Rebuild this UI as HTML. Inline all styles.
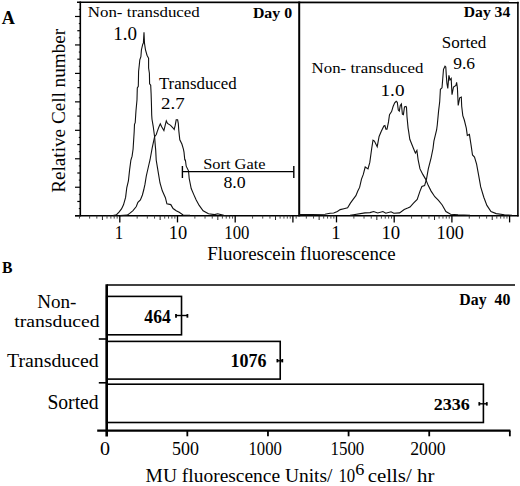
<!DOCTYPE html>
<html><head><meta charset="utf-8"><style>
html,body{margin:0;padding:0;background:#fff;}
svg{display:block;}
text{font-family:"Liberation Serif",serif;}
</style></head><body>
<svg width="520" height="486" viewBox="0 0 520 486">
<rect width="520" height="486" fill="#fff"/>
<line x1="77.00" y1="2.30" x2="518.60" y2="2.60" stroke="#000" stroke-width="1.6"/>
<line x1="80.30" y1="1.50" x2="80.30" y2="216.40" stroke="#000" stroke-width="1.6"/>
<line x1="299.20" y1="1.50" x2="299.20" y2="216.40" stroke="#000" stroke-width="2.0"/>
<line x1="517.90" y1="1.80" x2="517.90" y2="216.40" stroke="#000" stroke-width="1.6"/>
<line x1="75.00" y1="215.70" x2="518.60" y2="215.70" stroke="#000" stroke-width="1.6"/>
<line x1="75.00" y1="215.70" x2="80.30" y2="215.70" stroke="#000" stroke-width="1.2"/>
<line x1="77.30" y1="201.47" x2="80.30" y2="201.47" stroke="#000" stroke-width="1.2"/>
<line x1="78.80" y1="208.58" x2="80.30" y2="208.58" stroke="#000" stroke-width="1.0"/>
<line x1="78.80" y1="194.35" x2="80.30" y2="194.35" stroke="#000" stroke-width="1.0"/>
<line x1="75.00" y1="187.24" x2="80.30" y2="187.24" stroke="#000" stroke-width="1.2"/>
<line x1="77.30" y1="173.01" x2="80.30" y2="173.01" stroke="#000" stroke-width="1.2"/>
<line x1="78.80" y1="180.12" x2="80.30" y2="180.12" stroke="#000" stroke-width="1.0"/>
<line x1="78.80" y1="165.89" x2="80.30" y2="165.89" stroke="#000" stroke-width="1.0"/>
<line x1="75.00" y1="158.78" x2="80.30" y2="158.78" stroke="#000" stroke-width="1.2"/>
<line x1="77.30" y1="144.55" x2="80.30" y2="144.55" stroke="#000" stroke-width="1.2"/>
<line x1="78.80" y1="151.66" x2="80.30" y2="151.66" stroke="#000" stroke-width="1.0"/>
<line x1="78.80" y1="137.43" x2="80.30" y2="137.43" stroke="#000" stroke-width="1.0"/>
<line x1="75.00" y1="130.32" x2="80.30" y2="130.32" stroke="#000" stroke-width="1.2"/>
<line x1="77.30" y1="116.09" x2="80.30" y2="116.09" stroke="#000" stroke-width="1.2"/>
<line x1="78.80" y1="123.20" x2="80.30" y2="123.20" stroke="#000" stroke-width="1.0"/>
<line x1="78.80" y1="108.97" x2="80.30" y2="108.97" stroke="#000" stroke-width="1.0"/>
<line x1="75.00" y1="101.86" x2="80.30" y2="101.86" stroke="#000" stroke-width="1.2"/>
<line x1="77.30" y1="87.63" x2="80.30" y2="87.63" stroke="#000" stroke-width="1.2"/>
<line x1="78.80" y1="94.74" x2="80.30" y2="94.74" stroke="#000" stroke-width="1.0"/>
<line x1="78.80" y1="80.51" x2="80.30" y2="80.51" stroke="#000" stroke-width="1.0"/>
<line x1="75.00" y1="73.40" x2="80.30" y2="73.40" stroke="#000" stroke-width="1.2"/>
<line x1="77.30" y1="59.17" x2="80.30" y2="59.17" stroke="#000" stroke-width="1.2"/>
<line x1="78.80" y1="66.28" x2="80.30" y2="66.28" stroke="#000" stroke-width="1.0"/>
<line x1="78.80" y1="52.05" x2="80.30" y2="52.05" stroke="#000" stroke-width="1.0"/>
<line x1="75.00" y1="44.94" x2="80.30" y2="44.94" stroke="#000" stroke-width="1.2"/>
<line x1="77.30" y1="30.71" x2="80.30" y2="30.71" stroke="#000" stroke-width="1.2"/>
<line x1="78.80" y1="37.82" x2="80.30" y2="37.82" stroke="#000" stroke-width="1.0"/>
<line x1="78.80" y1="23.59" x2="80.30" y2="23.59" stroke="#000" stroke-width="1.0"/>
<line x1="75.00" y1="16.48" x2="80.30" y2="16.48" stroke="#000" stroke-width="1.2"/>
<line x1="78.80" y1="9.36" x2="80.30" y2="9.36" stroke="#000" stroke-width="1.0"/>
<line x1="79.47" y1="215.70" x2="79.47" y2="218.60" stroke="#333" stroke-width="0.9"/>
<line x1="89.63" y1="215.70" x2="89.63" y2="218.60" stroke="#333" stroke-width="0.9"/>
<line x1="96.84" y1="215.70" x2="96.84" y2="218.60" stroke="#333" stroke-width="0.9"/>
<line x1="102.43" y1="215.70" x2="102.43" y2="220.00" stroke="#222" stroke-width="1.0"/>
<line x1="107.00" y1="215.70" x2="107.00" y2="218.60" stroke="#333" stroke-width="0.9"/>
<line x1="110.86" y1="215.70" x2="110.86" y2="218.60" stroke="#333" stroke-width="0.9"/>
<line x1="114.21" y1="215.70" x2="114.21" y2="218.60" stroke="#333" stroke-width="0.9"/>
<line x1="117.16" y1="215.70" x2="117.16" y2="218.60" stroke="#333" stroke-width="0.9"/>
<line x1="119.80" y1="215.70" x2="119.80" y2="222.40" stroke="#000" stroke-width="1.3"/>
<line x1="137.17" y1="215.70" x2="137.17" y2="218.60" stroke="#333" stroke-width="0.9"/>
<line x1="147.33" y1="215.70" x2="147.33" y2="218.60" stroke="#333" stroke-width="0.9"/>
<line x1="154.54" y1="215.70" x2="154.54" y2="218.60" stroke="#333" stroke-width="0.9"/>
<line x1="160.13" y1="215.70" x2="160.13" y2="220.00" stroke="#222" stroke-width="1.0"/>
<line x1="164.70" y1="215.70" x2="164.70" y2="218.60" stroke="#333" stroke-width="0.9"/>
<line x1="168.56" y1="215.70" x2="168.56" y2="218.60" stroke="#333" stroke-width="0.9"/>
<line x1="171.91" y1="215.70" x2="171.91" y2="218.60" stroke="#333" stroke-width="0.9"/>
<line x1="174.86" y1="215.70" x2="174.86" y2="218.60" stroke="#333" stroke-width="0.9"/>
<line x1="177.50" y1="215.70" x2="177.50" y2="222.40" stroke="#000" stroke-width="1.3"/>
<line x1="194.87" y1="215.70" x2="194.87" y2="218.60" stroke="#333" stroke-width="0.9"/>
<line x1="205.03" y1="215.70" x2="205.03" y2="218.60" stroke="#333" stroke-width="0.9"/>
<line x1="212.24" y1="215.70" x2="212.24" y2="218.60" stroke="#333" stroke-width="0.9"/>
<line x1="217.83" y1="215.70" x2="217.83" y2="220.00" stroke="#222" stroke-width="1.0"/>
<line x1="222.40" y1="215.70" x2="222.40" y2="218.60" stroke="#333" stroke-width="0.9"/>
<line x1="226.26" y1="215.70" x2="226.26" y2="218.60" stroke="#333" stroke-width="0.9"/>
<line x1="229.61" y1="215.70" x2="229.61" y2="218.60" stroke="#333" stroke-width="0.9"/>
<line x1="232.56" y1="215.70" x2="232.56" y2="218.60" stroke="#333" stroke-width="0.9"/>
<line x1="235.20" y1="215.70" x2="235.20" y2="222.40" stroke="#000" stroke-width="1.3"/>
<line x1="252.57" y1="215.70" x2="252.57" y2="218.60" stroke="#333" stroke-width="0.9"/>
<line x1="262.73" y1="215.70" x2="262.73" y2="218.60" stroke="#333" stroke-width="0.9"/>
<line x1="269.94" y1="215.70" x2="269.94" y2="218.60" stroke="#333" stroke-width="0.9"/>
<line x1="275.53" y1="215.70" x2="275.53" y2="220.00" stroke="#222" stroke-width="1.0"/>
<line x1="280.10" y1="215.70" x2="280.10" y2="218.60" stroke="#333" stroke-width="0.9"/>
<line x1="283.96" y1="215.70" x2="283.96" y2="218.60" stroke="#333" stroke-width="0.9"/>
<line x1="287.31" y1="215.70" x2="287.31" y2="218.60" stroke="#333" stroke-width="0.9"/>
<line x1="290.26" y1="215.70" x2="290.26" y2="218.60" stroke="#333" stroke-width="0.9"/>
<line x1="292.90" y1="215.70" x2="292.90" y2="222.40" stroke="#000" stroke-width="1.3"/>
<line x1="296.17" y1="215.70" x2="296.17" y2="218.60" stroke="#333" stroke-width="0.9"/>
<line x1="306.33" y1="215.70" x2="306.33" y2="218.60" stroke="#333" stroke-width="0.9"/>
<line x1="313.54" y1="215.70" x2="313.54" y2="218.60" stroke="#333" stroke-width="0.9"/>
<line x1="319.13" y1="215.70" x2="319.13" y2="220.00" stroke="#222" stroke-width="1.0"/>
<line x1="323.70" y1="215.70" x2="323.70" y2="218.60" stroke="#333" stroke-width="0.9"/>
<line x1="327.56" y1="215.70" x2="327.56" y2="218.60" stroke="#333" stroke-width="0.9"/>
<line x1="330.91" y1="215.70" x2="330.91" y2="218.60" stroke="#333" stroke-width="0.9"/>
<line x1="333.86" y1="215.70" x2="333.86" y2="218.60" stroke="#333" stroke-width="0.9"/>
<line x1="336.50" y1="215.70" x2="336.50" y2="222.40" stroke="#000" stroke-width="1.3"/>
<line x1="353.87" y1="215.70" x2="353.87" y2="218.60" stroke="#333" stroke-width="0.9"/>
<line x1="364.03" y1="215.70" x2="364.03" y2="218.60" stroke="#333" stroke-width="0.9"/>
<line x1="371.24" y1="215.70" x2="371.24" y2="218.60" stroke="#333" stroke-width="0.9"/>
<line x1="376.83" y1="215.70" x2="376.83" y2="220.00" stroke="#222" stroke-width="1.0"/>
<line x1="381.40" y1="215.70" x2="381.40" y2="218.60" stroke="#333" stroke-width="0.9"/>
<line x1="385.26" y1="215.70" x2="385.26" y2="218.60" stroke="#333" stroke-width="0.9"/>
<line x1="388.61" y1="215.70" x2="388.61" y2="218.60" stroke="#333" stroke-width="0.9"/>
<line x1="391.56" y1="215.70" x2="391.56" y2="218.60" stroke="#333" stroke-width="0.9"/>
<line x1="394.20" y1="215.70" x2="394.20" y2="222.40" stroke="#000" stroke-width="1.3"/>
<line x1="411.57" y1="215.70" x2="411.57" y2="218.60" stroke="#333" stroke-width="0.9"/>
<line x1="421.73" y1="215.70" x2="421.73" y2="218.60" stroke="#333" stroke-width="0.9"/>
<line x1="428.94" y1="215.70" x2="428.94" y2="218.60" stroke="#333" stroke-width="0.9"/>
<line x1="434.53" y1="215.70" x2="434.53" y2="220.00" stroke="#222" stroke-width="1.0"/>
<line x1="439.10" y1="215.70" x2="439.10" y2="218.60" stroke="#333" stroke-width="0.9"/>
<line x1="442.96" y1="215.70" x2="442.96" y2="218.60" stroke="#333" stroke-width="0.9"/>
<line x1="446.31" y1="215.70" x2="446.31" y2="218.60" stroke="#333" stroke-width="0.9"/>
<line x1="449.26" y1="215.70" x2="449.26" y2="218.60" stroke="#333" stroke-width="0.9"/>
<line x1="451.90" y1="215.70" x2="451.90" y2="222.40" stroke="#000" stroke-width="1.3"/>
<line x1="469.27" y1="215.70" x2="469.27" y2="218.60" stroke="#333" stroke-width="0.9"/>
<line x1="479.43" y1="215.70" x2="479.43" y2="218.60" stroke="#333" stroke-width="0.9"/>
<line x1="486.64" y1="215.70" x2="486.64" y2="218.60" stroke="#333" stroke-width="0.9"/>
<line x1="492.23" y1="215.70" x2="492.23" y2="220.00" stroke="#222" stroke-width="1.0"/>
<line x1="496.80" y1="215.70" x2="496.80" y2="218.60" stroke="#333" stroke-width="0.9"/>
<line x1="500.66" y1="215.70" x2="500.66" y2="218.60" stroke="#333" stroke-width="0.9"/>
<line x1="504.01" y1="215.70" x2="504.01" y2="218.60" stroke="#333" stroke-width="0.9"/>
<line x1="506.96" y1="215.70" x2="506.96" y2="218.60" stroke="#333" stroke-width="0.9"/>
<line x1="509.60" y1="215.70" x2="509.60" y2="222.40" stroke="#000" stroke-width="1.3"/>
<polyline points="113.0,215.6 116.5,214.7 119.0,212.2 121.5,208.9 123.5,204.8 125.6,197.4 126.8,187.5 128.4,181.0 129.6,169.9 130.9,160.0 132.1,156.2 133.1,149.0 134.2,131.5 134.5,124.3 135.2,122.7 135.7,115.0 136.0,110.5 137.0,99.7 137.3,87.9 138.3,86.3 138.6,71.2 139.3,65.0 139.8,59.8 140.9,56.7 141.4,50.0 142.7,44.4 143.4,42.9 144.0,32.3 144.5,43.4 145.5,50.0 147.0,55.2 148.6,58.3 148.6,68.0 149.4,73.2 149.6,83.7 150.7,85.3 151.1,93.5 151.4,102.8 151.7,115.0 152.0,119.3 153.2,126.3 154.6,136.7 155.3,145.9 155.7,150.1 156.2,160.0 157.7,169.2 160.0,183.0 162.3,190.8 165.4,197.7 166.9,203.8 170.8,204.6 173.1,208.5 176.2,210.8 179.2,212.3 183.1,215.0 190.0,215.4" fill="none" stroke="#111" stroke-width="1.1" stroke-linejoin="miter"/>
<polyline points="120.0,215.6 127.2,215.1 129.7,213.4 133.0,210.6 136.3,206.5 137.9,202.3 140.4,199.9 142.4,195.0 143.7,190.0 145.0,184.2 146.3,176.0 148.8,165.0 150.0,160.0 152.2,147.9 154.6,136.7 156.3,134.5 157.2,131.6 158.7,127.5 160.3,123.9 161.8,127.0 163.9,130.6 165.4,124.4 166.3,120.8 167.5,123.4 170.6,125.4 173.1,128.0 174.2,129.5 175.2,125.4 176.2,119.8 177.6,119.8 178.3,123.4 178.8,130.6 179.8,139.8 181.9,144.0 183.4,149.1 184.0,152.2 184.8,160.0 185.4,160.0 186.2,166.2 188.5,170.8 189.2,178.5 191.2,188.5 193.8,194.6 196.2,200.0 199.2,205.4 203.1,210.8 208.5,213.8 214.6,214.6 217.7,213.8 223.8,215.4 230.0,215.6" fill="none" stroke="#111" stroke-width="1.1" stroke-linejoin="miter"/>
<polyline points="299.0,214.6 325.0,214.3 330.0,213.3 333.7,213.0 337.4,211.5 340.2,209.6 343.9,208.7 347.6,207.8 350.4,203.1 353.1,199.4 355.9,195.7 357.8,191.1 359.6,187.4 361.5,179.1 363.3,174.4 365.2,167.0 368.0,168.9 369.8,162.4 371.7,148.5 373.0,140.2 374.4,141.1 377.2,146.7 379.1,136.5 381.3,131.2 383.9,126.0 384.9,125.5 385.9,129.1 387.0,129.1 388.5,121.9 389.5,114.7 391.6,111.6 393.1,106.5 394.7,102.9 396.2,101.3 397.3,102.3 398.3,110.1 399.3,111.1 400.3,105.4 401.4,103.9 402.4,114.2 403.4,114.7 404.5,107.0 406.0,106.5 406.5,107.5 407.0,116.7 408.1,128.1 408.6,131.2 409.8,139.3 413.5,148.5 415.4,153.1 416.9,150.4 418.1,159.6 420.0,168.9 422.8,174.4 425.6,179.1 428.3,185.6 431.1,191.1 434.8,196.7 438.5,200.4 442.2,205.0 445.9,211.5 450.6,214.3 458.0,214.8 470.0,215.3" fill="none" stroke="#111" stroke-width="1.1" stroke-linejoin="miter"/>
<polyline points="350.0,215.4 353.5,214.8 365.0,212.9 370.0,212.6 373.6,211.5 377.7,213.0 382.9,211.5 385.8,213.2 391.0,211.8 393.8,213.2 399.6,212.9 404.2,209.5 407.7,208.1 410.0,207.0 413.5,203.1 417.2,199.4 420.0,191.1 421.9,186.5 424.6,185.6 426.5,179.1 428.3,168.9 431.1,157.8 433.0,148.5 433.9,141.1 435.7,133.7 436.6,130.0 437.3,124.8 438.6,110.9 439.7,101.7 440.4,89.3 442.0,87.8 442.7,79.3 443.5,69.3 445.0,66.2 445.8,67.0 446.3,75.4 446.9,83.1 447.8,88.5 448.9,75.4 450.0,80.0 451.2,78.5 452.0,94.7 453.5,87.0 455.9,85.5 456.6,82.4 457.4,87.8 458.2,105.5 459.7,97.8 461.3,97.0 461.7,106.3 462.8,115.6 464.3,120.0 466.3,128.2 467.3,135.4 469.4,134.4 471.0,144.7 472.5,155.0 474.5,157.0 476.6,164.2 478.7,175.6 480.7,186.9 483.8,197.2 486.9,205.4 491.0,211.6 496.2,213.6 504.4,214.7 512.0,215.3" fill="none" stroke="#111" stroke-width="1.1" stroke-linejoin="miter"/>
<line x1="182.40" y1="171.60" x2="293.80" y2="171.60" stroke="#000" stroke-width="1.4"/>
<line x1="182.40" y1="166.00" x2="182.40" y2="178.00" stroke="#000" stroke-width="1.4"/>
<line x1="293.80" y1="166.00" x2="293.80" y2="178.00" stroke="#000" stroke-width="1.4"/>
<text x="1.82" y="23.80" font-size="18.03" font-weight="bold" textLength="13.11" lengthAdjust="spacingAndGlyphs" fill="#000">A</text>
<text x="87.81" y="16.60" font-size="15.42" font-weight="normal" textLength="111.99" lengthAdjust="spacingAndGlyphs" fill="#000">Non-&#160;transduced</text>
<text x="113.23" y="39.50" font-size="18.04" font-weight="normal" textLength="23.80" lengthAdjust="spacingAndGlyphs" fill="#000">1.0</text>
<text x="252.92" y="17.90" font-size="15.12" font-weight="bold" textLength="39.18" lengthAdjust="spacingAndGlyphs" fill="#000">Day&#160;0</text>
<text x="158.90" y="88.80" font-size="16.34" font-weight="normal" textLength="77.80" lengthAdjust="spacingAndGlyphs" fill="#000">Transduced</text>
<text x="161.07" y="109.00" font-size="17.67" font-weight="normal" textLength="23.68" lengthAdjust="spacingAndGlyphs" fill="#000">2.7</text>
<text x="203.20" y="169.40" font-size="14.80" font-weight="normal" textLength="62.36" lengthAdjust="spacingAndGlyphs" fill="#000">Sort&#160;Gate</text>
<text x="223.42" y="188.00" font-size="16.69" font-weight="normal" textLength="22.26" lengthAdjust="spacingAndGlyphs" fill="#000">8.0</text>
<text x="463.83" y="16.80" font-size="14.36" font-weight="bold" textLength="46.36" lengthAdjust="spacingAndGlyphs" fill="#000">Day&#160;34</text>
<text x="311.61" y="72.50" font-size="14.36" font-weight="normal" textLength="111.79" lengthAdjust="spacingAndGlyphs" fill="#000">Non-&#160;transduced</text>
<text x="380.51" y="95.80" font-size="16.99" font-weight="normal" textLength="24.02" lengthAdjust="spacingAndGlyphs" fill="#000">1.0</text>
<text x="441.86" y="47.60" font-size="16.01" font-weight="normal" textLength="44.34" lengthAdjust="spacingAndGlyphs" fill="#000">Sorted</text>
<text x="453.24" y="68.60" font-size="17.52" font-weight="normal" textLength="21.89" lengthAdjust="spacingAndGlyphs" fill="#000">9.6</text>
<text x="114.63" y="239.10" font-size="18.33" font-weight="normal" textLength="8.38" lengthAdjust="spacingAndGlyphs" fill="#000">1</text>
<text x="168.78" y="239.10" font-size="18.19" font-weight="normal" textLength="18.42" lengthAdjust="spacingAndGlyphs" fill="#000">10</text>
<text x="224.33" y="239.10" font-size="18.19" font-weight="normal" textLength="25.11" lengthAdjust="spacingAndGlyphs" fill="#000">100</text>
<text x="331.35" y="239.10" font-size="18.33" font-weight="normal" textLength="9.37" lengthAdjust="spacingAndGlyphs" fill="#000">1</text>
<text x="381.45" y="239.10" font-size="18.19" font-weight="normal" textLength="18.76" lengthAdjust="spacingAndGlyphs" fill="#000">10</text>
<text x="436.60" y="239.10" font-size="18.19" font-weight="normal" textLength="27.29" lengthAdjust="spacingAndGlyphs" fill="#000">100</text>
<text x="207.16" y="260.20" font-size="19.09" font-weight="normal" textLength="188.50" lengthAdjust="spacingAndGlyphs" fill="#000">Fluorescein&#160;fluorescence</text>
<text transform="translate(64.7,192.75) rotate(-90)" x="0" y="0" font-size="18.78" textLength="163.92" lengthAdjust="spacingAndGlyphs">Relative Cell number</text>
<text x="2.04" y="272.50" font-size="17.10" font-weight="bold" textLength="10.50" lengthAdjust="spacingAndGlyphs" fill="#000">B</text>
<line x1="106.70" y1="285.00" x2="515.00" y2="285.00" stroke="#000" stroke-width="1.6"/>
<line x1="106.70" y1="284.30" x2="106.70" y2="436.50" stroke="#000" stroke-width="2.6"/>
<line x1="97.20" y1="430.70" x2="510.40" y2="430.70" stroke="#000" stroke-width="2.2"/>
<line x1="98.80" y1="339.00" x2="106.70" y2="339.00" stroke="#000" stroke-width="1.6"/>
<line x1="98.80" y1="382.80" x2="106.70" y2="382.80" stroke="#000" stroke-width="1.6"/>
<line x1="187.33" y1="430.70" x2="187.33" y2="436.30" stroke="#000" stroke-width="1.8"/>
<line x1="267.96" y1="430.70" x2="267.96" y2="436.30" stroke="#000" stroke-width="1.8"/>
<line x1="348.59" y1="430.70" x2="348.59" y2="436.30" stroke="#000" stroke-width="1.8"/>
<line x1="429.22" y1="430.70" x2="429.22" y2="436.30" stroke="#000" stroke-width="1.8"/>
<line x1="509.85" y1="430.70" x2="509.85" y2="436.30" stroke="#000" stroke-width="1.8"/>
<rect x="106.7" y="296.40" width="74.82" height="38.40" fill="none" stroke="#000" stroke-width="1.6"/>
<rect x="106.7" y="341.40" width="173.52" height="37.70" fill="none" stroke="#000" stroke-width="1.6"/>
<rect x="106.7" y="384.20" width="376.70" height="38.30" fill="none" stroke="#000" stroke-width="1.6"/>
<line x1="176.00" y1="315.50" x2="187.40" y2="315.50" stroke="#000" stroke-width="1.4"/>
<line x1="176.00" y1="314.00" x2="176.00" y2="317.70" stroke="#000" stroke-width="1.8"/>
<line x1="187.40" y1="314.00" x2="187.40" y2="317.70" stroke="#000" stroke-width="1.8"/>
<line x1="277.40" y1="360.80" x2="282.30" y2="360.80" stroke="#000" stroke-width="1.4"/>
<line x1="277.40" y1="359.00" x2="277.40" y2="362.40" stroke="#000" stroke-width="1.8"/>
<line x1="282.30" y1="359.00" x2="282.30" y2="362.40" stroke="#000" stroke-width="1.8"/>
<line x1="479.30" y1="403.80" x2="486.80" y2="403.80" stroke="#000" stroke-width="1.4"/>
<line x1="479.30" y1="402.10" x2="479.30" y2="405.60" stroke="#000" stroke-width="1.8"/>
<line x1="486.80" y1="402.10" x2="486.80" y2="405.60" stroke="#000" stroke-width="1.8"/>
<text x="144.36" y="323.20" font-size="17.82" font-weight="bold" textLength="26.37" lengthAdjust="spacingAndGlyphs" fill="#000">464</text>
<text x="230.56" y="367.40" font-size="18.65" font-weight="bold" textLength="35.97" lengthAdjust="spacingAndGlyphs" fill="#000">1076</text>
<text x="433.84" y="410.40" font-size="17.37" font-weight="bold" textLength="35.98" lengthAdjust="spacingAndGlyphs" fill="#000">2336</text>
<text x="459.32" y="304.60" font-size="15.88" font-weight="bold" textLength="50.98" lengthAdjust="spacingAndGlyphs" fill="#000">Day&#160;&#160;40</text>
<text x="37.15" y="308.30" font-size="17.87" font-weight="normal" textLength="39.24" lengthAdjust="spacingAndGlyphs" fill="#000">Non-</text>
<text x="14.21" y="327.30" font-size="17.73" font-weight="normal" textLength="85.43" lengthAdjust="spacingAndGlyphs" fill="#000">transduced</text>
<text x="7.05" y="367.10" font-size="18.78" font-weight="normal" textLength="91.59" lengthAdjust="spacingAndGlyphs" fill="#000">Transduced</text>
<text x="47.39" y="408.80" font-size="20.24" font-weight="normal" textLength="51.25" lengthAdjust="spacingAndGlyphs" fill="#000">Sorted</text>
<text x="100.04" y="454.60" font-size="18.50" font-weight="normal" textLength="10.03" lengthAdjust="spacingAndGlyphs" fill="#000">0</text>
<text x="171.96" y="454.60" font-size="18.50" font-weight="normal" textLength="26.93" lengthAdjust="spacingAndGlyphs" fill="#000">500</text>
<text x="248.54" y="454.60" font-size="18.50" font-weight="normal" textLength="33.30" lengthAdjust="spacingAndGlyphs" fill="#000">1000</text>
<text x="330.52" y="454.60" font-size="18.50" font-weight="normal" textLength="33.72" lengthAdjust="spacingAndGlyphs" fill="#000">1500</text>
<text x="410.22" y="454.60" font-size="18.50" font-weight="normal" textLength="35.45" lengthAdjust="spacingAndGlyphs" fill="#000">2000</text>
<text x="145.64" y="481.90" font-size="19.09" font-weight="normal" textLength="186.86" lengthAdjust="spacingAndGlyphs" fill="#000">MU&#160;fluorescence&#160;Units/</text>
<text x="338.42" y="482.00" font-size="18.34" font-weight="normal" textLength="16.82" lengthAdjust="spacingAndGlyphs" fill="#000">10</text>
<text x="355.22" y="475.20" font-size="17.67" font-weight="normal" textLength="9.13" lengthAdjust="spacingAndGlyphs" fill="#000">6</text>
<text x="367.70" y="481.70" font-size="18.30" font-weight="normal" textLength="66.68" lengthAdjust="spacingAndGlyphs" fill="#000">cells/&#160;hr</text>
</svg>
</body></html>
